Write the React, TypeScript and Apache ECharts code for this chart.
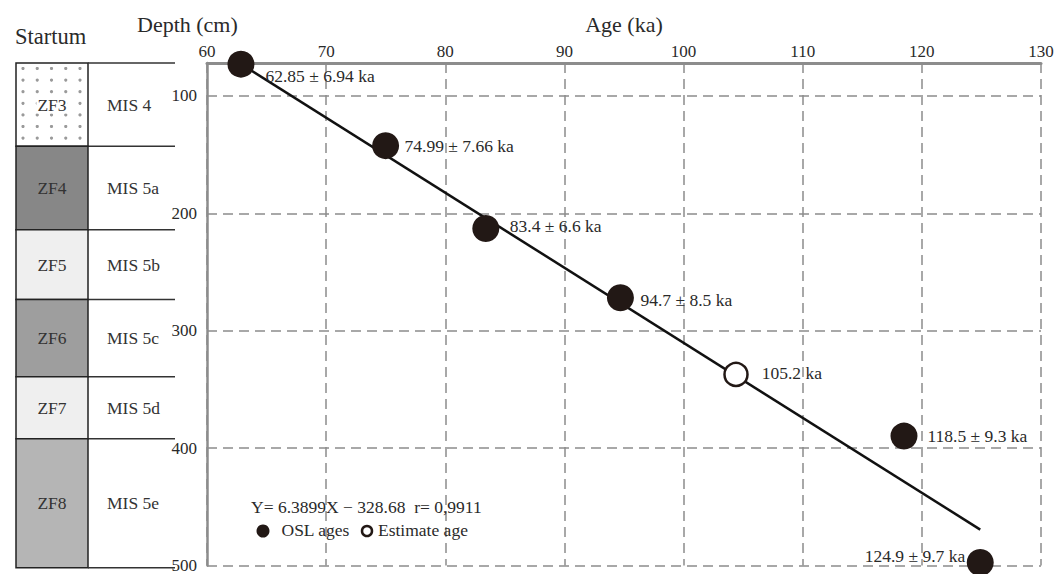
import React, { useEffect, useRef } from "react";
import * as echarts from "echarts";

// ---------- data ----------
const ageTicks = [60, 70, 80, 90, 100, 110, 120, 130];
const depthTicks = [100, 200, 300, 400, 500];
const depthMin = 72;
const depthMax = 500;

const oslAge = [62.85, 74.99, 83.4, 94.7, 118.5, 124.9];
const oslError = [6.94, 7.66, 6.6, 8.5, 9.3, 9.7];
const oslDepth = [73, 142.4, 213, 272, 389.8, 497.5];

const estimateAge = [104.4];
const estimateDepth = [337.3];
const estimateText = ["105.2 ka"];

const fitAge = [62.85, 124.9];
const fitDepth = [72.9, 469.4];
const fitEquation = "Y= 6.3899X − 328.68  r= 0,9911";

const strataName = ["ZF3", "ZF4", "ZF5", "ZF6", "ZF7", "ZF8"];
const misName = ["MIS 4", "MIS 5a", "MIS 5b", "MIS 5c", "MIS 5d", "MIS 5e"];
const strataTop = [72, 142.4, 213, 272, 337.3, 389.8];
const strataBottom = [142.4, 213, 272, 337.3, 389.8, 499];

// ---------- styles / layout ----------
const FONT = "Liberation Serif, Times New Roman, serif";
const TXT = "#2a2a2a";
const DOT = "#221815";
const GRIDC = "#8c8c8c";
const strataFill = ["#ffffff", "#878787", "#efefef", "#9e9e9e", "#efefef", "#b5b5b5"];
const strataDotted = [true, false, false, false, false, false];

const oslLabelLayout: any[] = [
  { position: "right", distance: 11, offset: [0, 12] },
  { position: "right", distance: 5.5, offset: [0, 0.5] },
  { position: "right", distance: 10.5, offset: [0, -2.6] },
  { position: "right", distance: 6.5, offset: [0, 2.4] },
  { position: "right", distance: 10, offset: [0, 0] },
  { position: "left", distance: 1.5, offset: [0, -7] },
];

export default function App() {
  const ref = useRef<HTMLDivElement>(null);

  useEffect(() => {
    if (!ref.current) return;
    const chart = echarts.init(ref.current, undefined, { renderer: "svg" });

    const labelBase = { show: true, fontFamily: FONT, fontSize: 17.5, color: TXT };

    const option: any = {
      animation: false,
      backgroundColor: "#ffffff",
      grid: [
        { left: 207, right: 17, top: 63, bottom: 5 },
        { left: 16, width: 159, top: 63, bottom: 5 },
      ],
      xAxis: [
        {
          type: "value",
          gridIndex: 0,
          position: "top",
          min: ageTicks[0],
          max: ageTicks[ageTicks.length - 1],
          interval: ageTicks[1] - ageTicks[0],
          axisLine: { show: true, lineStyle: { color: GRIDC, width: 3 } },
          axisTick: { show: false },
          axisLabel: { margin: 3, fontFamily: FONT, fontSize: 17, color: TXT },
          splitLine: { show: true, lineStyle: { color: GRIDC, width: 1.5, type: [10, 6] } },
        },
        { type: "value", gridIndex: 1, min: 0, max: 159, show: false },
      ],
      yAxis: [
        {
          type: "value",
          gridIndex: 0,
          inverse: true,
          min: depthMin,
          max: depthMax,
          axisLine: { show: true, lineStyle: { color: GRIDC, width: 2.5 } },
          axisTick: { show: false, customValues: depthTicks },
          axisLabel: { margin: 10, fontFamily: FONT, fontSize: 17, color: TXT, customValues: depthTicks },
          splitLine: { show: true, lineStyle: { color: GRIDC, width: 1.5, type: [10, 6] } },
        },
        { type: "value", gridIndex: 1, inverse: true, min: depthMin, max: depthMax, show: false },
      ],
      series: [
        {
          type: "line",
          xAxisIndex: 0,
          yAxisIndex: 0,
          data: fitAge.map((a, i) => [a, fitDepth[i]]),
          showSymbol: false,
          symbol: "none",
          lineStyle: { color: "#111", width: 2.5 },
          z: 2,
        },
        {
          type: "scatter",
          name: "OSL ages",
          xAxisIndex: 0,
          yAxisIndex: 0,
          symbolSize: 27,
          clip: false,
          itemStyle: { color: DOT, opacity: 1 },
          data: oslAge.map((a, i) => ({
            value: [a, oslDepth[i]],
            label: { ...labelBase, ...oslLabelLayout[i], formatter: `${a} ± ${oslError[i]} ka` },
          })),
          z: 3,
        },
        {
          type: "scatter",
          name: "Estimate age",
          xAxisIndex: 0,
          yAxisIndex: 0,
          symbolSize: 23,
          clip: false,
          itemStyle: { color: "#ffffff", borderColor: DOT, borderWidth: 2.5, opacity: 1 },
          data: estimateAge.map((a, i) => ({
            value: [a, estimateDepth[i]],
            label: { ...labelBase, position: "right", distance: 13, offset: [0, -1], formatter: estimateText[i] },
          })),
          z: 3,
        },
        {
          type: "custom",
          xAxisIndex: 1,
          yAxisIndex: 1,
          clip: false,
          data: strataTop.map((t, i) => [t, strataBottom[i]]),
          renderItem: (params: any, api: any) => {
            const i = params.dataIndex;
            const top = api.value(0);
            const bottom = api.value(1);
            const a = api.coord([0, top]);
            const b = api.coord([72, bottom]);
            const c = api.coord([159, bottom]);
            const x0 = a[0], y0 = a[1], x1 = b[0], y1 = b[1], x2 = c[0];
            const children: any[] = [
              {
                type: "rect",
                shape: { x: x0, y: y0, width: x1 - x0, height: y1 - y0 },
                style: { fill: strataFill[i], stroke: "#222", lineWidth: 1.5 },
              },
            ];
            if (strataDotted[i]) {
              for (let yy = y0 + 5.5; yy < y1 - 3; yy += 11.6) {
                for (let xx = x0 + 7; xx < x1 - 3; xx += 14.25) {
                  children.push({ type: "circle", shape: { cx: xx, cy: yy, r: 1.6 }, style: { fill: "#9a9a9a" } });
                }
              }
            }
            children.push({
              type: "text",
              style: {
                text: strataName[i],
                x: (x0 + x1) / 2,
                y: (y0 + y1) / 2,
                align: "center",
                verticalAlign: "middle",
                fontFamily: FONT,
                fontSize: 17.5,
                fill: "#333",
                backgroundColor: strataDotted[i] ? "#ffffff" : undefined,
                padding: strataDotted[i] ? [0, 1] : undefined,
              },
            });
            children.push({
              type: "text",
              style: {
                text: misName[i],
                x: x1 + 19,
                y: (y0 + y1) / 2,
                align: "left",
                verticalAlign: "middle",
                fontFamily: FONT,
                fontSize: 17.5,
                fill: "#333",
              },
            });
            children.push({
              type: "line",
              shape: { x1: x1, y1: y1, x2: x2, y2: y1 },
              style: { stroke: "#333", lineWidth: 1.5 },
            });
            if (i === 0) {
              children.push({
                type: "line",
                shape: { x1: x1, y1: y0, x2: x2, y2: y0 },
                style: { stroke: "#333", lineWidth: 1.5 },
              });
            }
            return { type: "group", children };
          },
          z: 1,
        },
      ],
      graphic: [
        {
          type: "text",
          style: { text: "Startum", x: 15, y: 36, verticalAlign: "middle", fontFamily: FONT, fontSize: 22.5, fill: TXT },
        },
        {
          type: "text",
          style: { text: "Depth (cm)", x: 137, y: 24.5, verticalAlign: "middle", fontFamily: FONT, fontSize: 22, fill: TXT },
        },
        {
          type: "text",
          style: { text: "Age (ka)", x: 624, y: 24.5, align: "center", verticalAlign: "middle", fontFamily: FONT, fontSize: 22, fill: TXT },
        },
        {
          type: "text",
          style: { text: fitEquation, x: 251, y: 507, verticalAlign: "middle", fontFamily: FONT, fontSize: 17.5, fill: TXT },
          z: 10,
        },
        { type: "circle", shape: { cx: 263, cy: 531, r: 6.5 }, style: { fill: DOT }, z: 10 },
        {
          type: "text",
          style: { text: "OSL ages", x: 281.5, y: 530, verticalAlign: "middle", fontFamily: FONT, fontSize: 17.5, fill: TXT },
          z: 10,
        },
        { type: "circle", shape: { cx: 367, cy: 531, r: 5 }, style: { fill: "#fff", stroke: DOT, lineWidth: 2.5 }, z: 10 },
        {
          type: "text",
          style: { text: "Estimate age", x: 378, y: 530, verticalAlign: "middle", fontFamily: FONT, fontSize: 17.5, fill: TXT },
          z: 10,
        },
      ],
    };

    chart.setOption(option);
    return () => chart.dispose();
  }, []);

  return (
    <div
      ref={ref}
      style={{ position: "absolute", left: 0, top: 0, width: 1058, height: 574, background: "#fff" }}
    />
  );
}
